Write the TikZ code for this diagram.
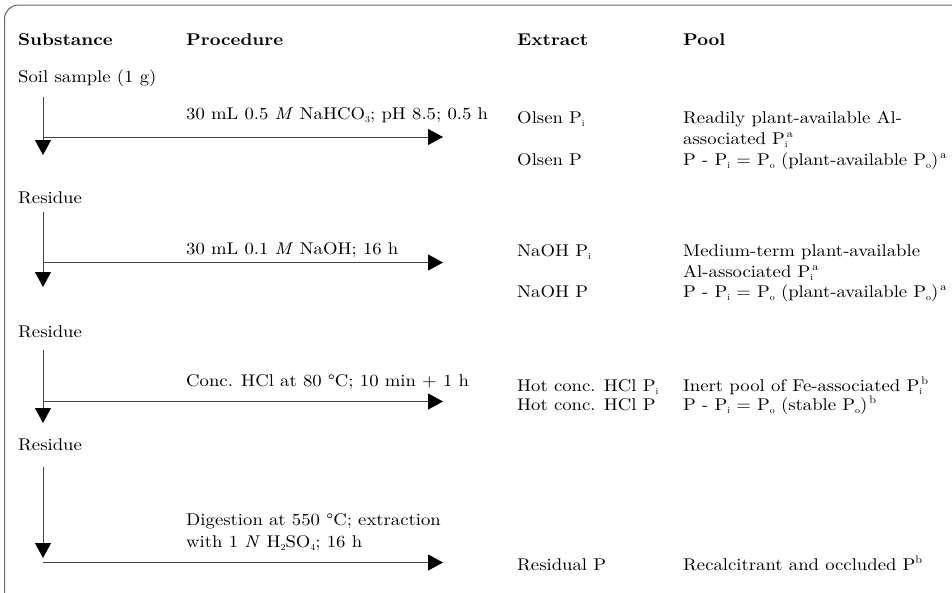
\documentclass[tikz,border=0pt]{standalone}
\usepackage{fontspec}
\setmainfont{lmroman10-regular.otf}[BoldFont=lmroman10-bold.otf, ItalicFont=lmroman10-italic.otf, FakeStretch=1.1]
\usetikzlibrary{arrows.meta}
\definecolor{flowgray}{HTML}{444444}
\definecolor{framegray}{HTML}{666666}
\newcommand{\psub}[1]{\raisebox{-0.45ex}{\fontsize{9}{9}\selectfont #1}}
\newcommand{\psup}[1]{\raisebox{0.9ex}{\fontsize{11}{11}\selectfont #1}}
\begin{document}
\begin{tikzpicture}[x=1pt,y=-1pt]
            \tikzset{
	every node/.style={font=\fontsize{17}{20}\selectfont, inner sep=0pt, anchor=base west},
	head/.style={font=\fontsize{17}{20}\selectfont\bfseries},
	flow/.style={draw=flowgray, line width=1pt, -{Triangle[length=15pt,width=16pt,color=black]}}
}
\useasboundingbox (0,0) rectangle (952,592);
\clip (0,0) rectangle (952,592);
\draw[framegray, line width=1pt, rounded corners=14pt] (4.5,5) rectangle (970,610);

% column heads
\node[head] (hsub) at (18,45) {Substance};
\node[head] (hproc) at (186,45) {Procedure};
\node[head] (hext) at (517,45) {Extract};
\node[head] (hpool) at (683,45) {Pool};

% substance column
\node (soil) at (18,82) {Soil sample (1 g)};
\node (res1) at (18,203) {Residue};
\node (res2) at (18,337) {Residue};
\node (res3) at (18,450) {Residue};

% step 1
\coordinate (v1a) at (43,97);
\coordinate (v1b) at (43,155);
\coordinate (h1a) at (43,137);
\coordinate (h1b) at (443,137);
\draw[flow] (v1a) -- (v1b);
\draw[flow] (h1a) -- (h1b);
\node (proc1) at (186,119) {30 mL 0.5 \textit{M} NaHCO\psub{3}; pH 8.5; 0.5 h};
\node (ext1a) at (517,123) {Olsen P\psub{i}};
\node (ext1b) at (517,165) {Olsen P};
\node (pool1a) at (683,123) {Readily plant-available Al-};
\node (pool1b) at (683,144) {associated P\rlap{\psub{i}}\kern2pt\psup{a}};
\node (pool1c) at (683,165) {P - P\psub{i} = P\psub{o} (plant-available P\psub{o})\kern2pt\psup{a}};

% step 2
\coordinate (v2a) at (43,212);
\coordinate (v2b) at (43,287);
\coordinate (h2a) at (43,262.5);
\coordinate (h2b) at (443,262.5);
\draw[flow] (v2a) -- (v2b);
\draw[flow] (h2a) -- (h2b);
\node (proc2) at (186,254) {30 mL 0.1 \textit{M} NaOH; 16 h};
\node (ext2a) at (517,256) {NaOH P\psub{i}};
\node (ext2b) at (517,297) {NaOH P};
\node (pool2a) at (683,256) {Medium-term plant-available};
\node (pool2b) at (683,277) {Al-associated P\rlap{\psub{i}}\kern2pt\psup{a}};
\node (pool2c) at (683,297) {P - P\psub{i} = P\psub{o} (plant-available P\psub{o})\kern2pt\psup{a}};

% step 3
\coordinate (v3a) at (43,350);
\coordinate (v3b) at (43,423);
\coordinate (h3a) at (43,401.5);
\coordinate (h3b) at (443,401.5);
\draw[flow] (v3a) -- (v3b);
\draw[flow] (h3a) -- (h3b);
\node (proc3) at (186,386) {Conc. HCl at 80 °C; 10 min + 1 h};
\node (ext3a) at (517,391) {Hot conc. HCl P\psub{i}};
\node (ext3b) at (517,410) {Hot conc. HCl P};
\node (pool3a) at (683,391) {Inert pool of Fe-associated P\rlap{\psub{i}}\kern2pt\psup{b}};
\node (pool3b) at (683,410) {P - P\psub{i} = P\psub{o} (stable P\psub{o})\kern2pt\psup{b}};

% step 4
\coordinate (v4a) at (43,467);
\coordinate (v4b) at (43,558);
\coordinate (h4a) at (43,562.5);
\coordinate (h4b) at (443,562.5);
\draw[flow] (v4a) -- (v4b);
\draw[flow] (h4a) -- (h4b);
\node (proc4a) at (186,525) {Digestion at 550 °C; extraction};
\node (proc4b) at (186,547) {with 1 \textit{N} H\psub{2}SO\psub{4}; 16 h};
\node (ext4) at (517,570) {Residual P};
\node (pool4) at (683,570) {Recalcitrant and occluded P\psup{b}};
        \end{tikzpicture}
\end{document}
